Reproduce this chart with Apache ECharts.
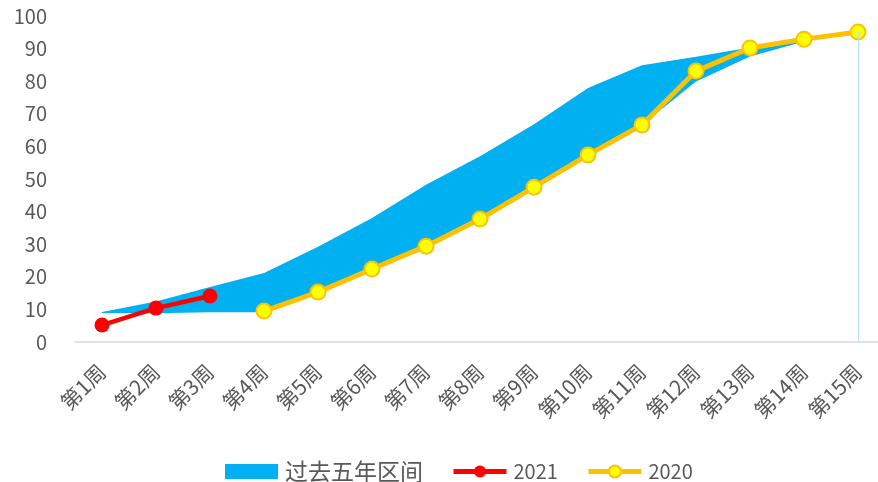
<!DOCTYPE html>
<html>
<head>
<meta charset="utf-8">
<script src="https://cdn.jsdelivr.net/npm/echarts@6/dist/echarts.min.js"></script>
<style>
html, body { margin: 0; padding: 0; background: #fff; }
#chart { width: 878px; height: 482px; }
</style>
</head>
<body>
<div id="chart"></div>
<script>
// weeks on the x axis
var weeks = ["第1周", "第2周", "第3周", "第4周", "第5周", "第6周", "第7周", "第8周",
  "第9周", "第10周", "第11周", "第12周", "第13周", "第14周", "第15周"];
var yTicks = [0, 10, 20, 30, 40, 50, 60, 70, 80, 90, 100];

// past five years range (lower / upper edge)
var bandLow = [8.9, 8.8, 9.1, 9.1, 15.3, 22.4, 29.4, 37.7, 47.5, 57.4, 66.6, 79.9, 87.6, 92.2, 95.1];
var bandHigh = [9.2, 12.4, 16.9, 21.2, 29.2, 38.0, 48.2, 57.0, 66.8, 77.9, 84.9, 87.5, 90.3, 93.5, 95.5];

var data2021 = [5.2, 10.4, 14.1, "-", "-", "-", "-", "-", "-", "-", "-", "-", "-", "-", "-"];
var data2020 = ["-", "-", "-", 9.5, 15.3, 22.4, 29.4, 37.7, 47.5, 57.4, 66.6, 83.1, 90.2, 92.9, 95.1];

var bandDiff = bandHigh.map(function (v, i) { return +(v - bandLow[i]).toFixed(2); });

var textColor = "#595959";
var font = "'Noto Sans CJK SC', 'Noto Sans', sans-serif";

var chart = echarts.init(document.getElementById("chart"));
chart.setOption({
  animation: false,
  textStyle: { fontFamily: font },
  grid: { left: 75, width: 810, top: 16, bottom: 140, containLabel: false, outerBoundsMode: "none" },
  legend: {
    left: 220,
    top: 455,
    itemWidth: 53,
    itemHeight: 15,
    itemGap: 28,
    formatter: function (name) {
      return /^\d+$/.test(name) ? name : "{cn|" + name + "}";
    },
    textStyle: {
      color: textColor, fontSize: 20, fontFamily: font, padding: [0, 0, 0, 2],
      rich: { cn: { fontSize: 23, color: textColor, fontFamily: font } }
    },
    data: [
      { name: "过去五年区间", icon: "rect" },
      { name: "2021", lineStyle: { width: 5 } },
      { name: "2020", lineStyle: { width: 5 } }
    ]
  },
  xAxis: {
    type: "category",
    data: weeks,
    boundaryGap: true,
    axisTick: { show: false },
    axisLine: { lineStyle: { color: "#D9D9D9", width: 1.5 } },
    axisLabel: {
      rotate: 45,
      interval: 0,
      margin: 26,
      color: textColor,
      fontSize: 21,
      fontFamily: font
    }
  },
  yAxis: {
    type: "value",
    min: yTicks[0],
    max: yTicks[yTicks.length - 1],
    interval: 10,
    splitLine: { show: false },
    axisLine: { show: false },
    axisTick: { show: false },
    axisLabel: { color: textColor, fontSize: 20, margin: 28, fontFamily: font }
  },
  series: [
    {
      name: "lower",
      type: "line",
      stack: "band",
      data: bandLow,
      symbol: "none",
      lineStyle: { opacity: 0 },
      silent: true
    },
    {
      name: "过去五年区间",
      type: "line",
      stack: "band",
      data: bandDiff,
      symbol: "none",
      itemStyle: { color: "#00B0F0" },
      lineStyle: { opacity: 0 },
      areaStyle: { color: "#00B0F0", opacity: 1 },
      markLine: {
        silent: true,
        symbol: "none",
        label: { show: false },
        lineStyle: { color: "#B4E3F8", width: 1, type: "solid" },
        data: [
          [{ coord: [weeks[14], 0] }, { coord: [weeks[14], bandHigh[14]] }]
        ]
      }
    },
    {
      name: "2021",
      type: "line",
      data: data2021,
      symbol: "circle",
      symbolSize: 15,
      itemStyle: { color: "#FF0000" },
      lineStyle: { color: "#FF0000", width: 4.5 }
    },
    {
      name: "2020",
      type: "line",
      data: data2020,
      symbol: "circle",
      symbolSize: 15,
      itemStyle: { color: "#FFFF00", borderColor: "#FFC000", borderWidth: 2 },
      lineStyle: { color: "#FFC000", width: 5 }
    }
  ]
});
</script>
</body>
</html>
